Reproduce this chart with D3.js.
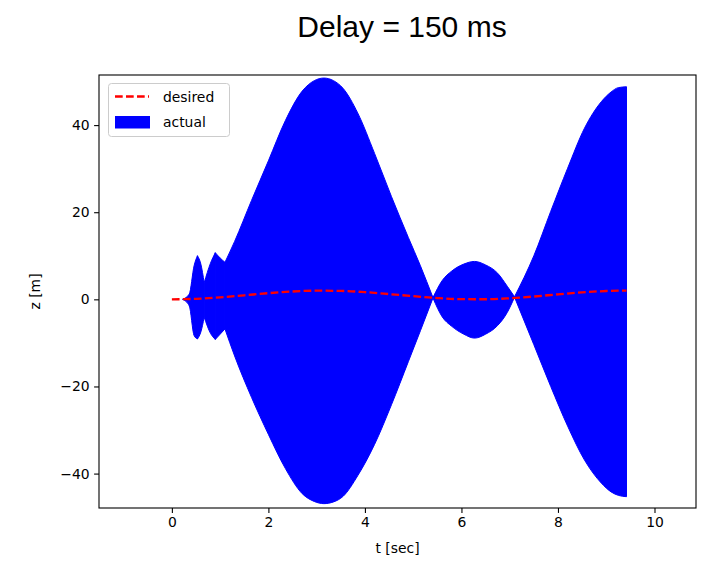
<!DOCTYPE html>
<html>
<head>
<meta charset="utf-8">
<script src="https://cdn.jsdelivr.net/npm/d3@7"></script>
<style>
  html, body { margin: 0; padding: 0; background: #fff; }
  svg { display: block; }
</style>
</head>
<body>
<script>
// ---- data ----
const envT = [0.22, 0.36, 0.46, 0.53, 0.60, 0.67, 0.80, 0.90, 1.00, 1.10, 1.30, 1.65, 2.00, 2.35, 2.70, 2.95, 3.15, 3.35, 3.55, 3.85, 4.20, 4.55, 4.90, 5.15, 5.41, 5.60, 5.80, 6.05, 6.27, 6.50, 6.75, 6.95, 7.10, 7.50, 7.85, 8.20, 8.55, 8.90, 9.10, 9.25, 9.42];
const actualUpper = [0, 1.2, 7.7, 10.0, 8.1, 3.8, 8.3, 10.7, 9.5, 8.5, 13.3, 22.7, 31.8, 41.0, 47.8, 50.2, 50.8, 50.2, 48.4, 42.8, 33.5, 23.6, 14.2, 7.7, 0.4, 4.3, 6.5, 8.1, 8.7, 7.9, 6.0, 3.0, 0.6, 10.0, 20.2, 30.1, 39.3, 45.4, 47.6, 48.6, 48.8];
const actualLower = [0, -1.5, -8.3, -9.1, -7.5, -4.1, -7.8, -9.2, -8.0, -6.8, -13.0, -22.5, -31.0, -38.8, -44.6, -46.4, -46.9, -46.5, -45.2, -40.5, -33.3, -24.2, -14.3, -7.2, 0.3, -4.0, -6.2, -8.0, -8.9, -8.0, -6.0, -3.0, 0.5, -10.4, -20.0, -29.1, -36.9, -42.2, -44.2, -45.0, -45.3];
// times where the envelope has a sharp corner (necks / dips)
const cornerT = [0.53, 0.67, 0.90, 1.10, 5.41, 7.10];
const desiredT = [0, 0.5, 1, 1.5, 2, 2.5, 3, 3.5, 4, 4.5, 5, 5.5, 6, 6.5, 7, 7.5, 8, 8.5, 9, 9.42];
const desiredZ = [0, 0.12, 0.46, 0.93, 1.42, 1.80, 1.99, 1.94, 1.65, 1.21, 0.72, 0.29, 0.04, 0.02, 0.25, 0.65, 1.15, 1.60, 1.91, 2.0];
const xTicks = [0, 2, 4, 6, 8, 10];
const yTicks = [-40, -20, 0, 20, 40];
const seriesNames = ["desired", "actual"];
const titleText = "Delay = 150 ms";
const xLabel = "t [sec]";
const yLabel = "z [m]";

// ---- layout ----
const W = 702, H = 561;
const plot = { left: 99, right: 696, top: 75, bottom: 508 };
const font = "'DejaVu Sans', sans-serif";

const svg = d3.select("body").append("svg").attr("width", W).attr("height", H);

const x = d3.scaleLinear().domain([-1.51, 10.86]).range([plot.left, plot.right]);
const y = d3.scaleLinear().domain([-47.9, 51.5]).range([plot.bottom, plot.top]);

// title
svg.append("text")
  .attr("x", 402).attr("y", 37)
  .attr("text-anchor", "middle")
  .attr("font-family", "'Liberation Sans', Arial, sans-serif")
  .attr("font-size", 30)
  .attr("fill", "#000")
  .text(titleText);

const g = svg.append("g");
g.append("defs").append("clipPath").attr("id", "clip")
  .append("rect").attr("x", plot.left).attr("y", plot.top)
  .attr("width", plot.right - plot.left).attr("height", plot.bottom - plot.top);

const plotArea = g.append("g").attr("clip-path", "url(#clip)");

// actual (filled envelope), drawn in pieces split at sharp corners
const envData = envT.map((t, i) => ({ t, hi: actualUpper[i], lo: actualLower[i] }));
const segments = [];
let cur = [];
envData.forEach(d => {
  cur.push(d);
  if (cornerT.includes(d.t)) { segments.push(cur); cur = [d]; }
});
if (cur.length > 1) segments.push(cur);

const area = d3.area()
  .x(d => x(d.t)).y0(d => y(d.lo)).y1(d => y(d.hi))
  .curve(d3.curveMonotoneX);
plotArea.selectAll("path.env").data(segments).join("path")
  .attr("class", "env")
  .attr("d", area)
  .attr("fill", "#0000ff")
  .attr("stroke", "#0000ff")
  .attr("stroke-width", 1)
  .attr("stroke-linejoin", "round");

// desired (dashed red)
const desData = desiredT.map((t, i) => ({ t, z: desiredZ[i] }));
const line = d3.line().x(d => x(d.t)).y(d => y(d.z)).curve(d3.curveMonotoneX);
plotArea.append("path").datum(desData)
  .attr("d", line)
  .attr("fill", "none")
  .attr("stroke", "#ff0000")
  .attr("stroke-width", 2.3)
  .attr("stroke-dasharray", "7.7,3.3");

// axes
const xAxis = d3.axisBottom(x).tickValues(xTicks).tickSize(4.9).tickPadding(4.5).tickFormat(d3.format("d"));
const yAxis = d3.axisLeft(y).tickValues(yTicks).tickSize(4.9).tickPadding(4.5)
  .tickFormat(d => (d < 0 ? "\u2212" + Math.abs(d) : String(d)));

const gx = g.append("g").attr("transform", `translate(0,${plot.bottom})`).call(xAxis);
const gy = g.append("g").attr("transform", `translate(${plot.left},0)`).call(yAxis);
[gx, gy].forEach(ax => {
  ax.select(".domain").remove();
  ax.selectAll(".tick line").attr("stroke", "#000").attr("stroke-width", 1.1);
  ax.selectAll(".tick text").attr("font-family", font).attr("font-size", 13.9).attr("fill", "#000");
});

// spines
g.append("rect")
  .attr("x", plot.left).attr("y", plot.top)
  .attr("width", plot.right - plot.left).attr("height", plot.bottom - plot.top)
  .attr("fill", "none").attr("stroke", "#000").attr("stroke-width", 1.1);

// axis labels
svg.append("text")
  .attr("x", (plot.left + plot.right) / 2).attr("y", 553)
  .attr("text-anchor", "middle")
  .attr("font-family", font).attr("font-size", 13.9).attr("fill", "#000")
  .text(xLabel);
svg.append("text")
  .attr("transform", `translate(40,${(plot.top + plot.bottom) / 2}) rotate(-90)`)
  .attr("text-anchor", "middle")
  .attr("font-family", font).attr("font-size", 13.9).attr("fill", "#000")
  .text(yLabel);

// legend
const lg = svg.append("g");
lg.append("rect")
  .attr("x", 108.5).attr("y", 83.5).attr("width", 121).attr("height", 53)
  .attr("rx", 3).attr("ry", 3)
  .attr("fill", "#fff").attr("fill-opacity", 0.8)
  .attr("stroke", "#ccc").attr("stroke-width", 1);
lg.append("line")
  .attr("x1", 115).attr("x2", 149).attr("y1", 96.5).attr("y2", 96.5)
  .attr("stroke", "#ff0000").attr("stroke-width", 2.3)
  .attr("stroke-dasharray", "7.7,3.3");
lg.append("rect")
  .attr("x", 115).attr("y", 116).attr("width", 35).attr("height", 12.5)
  .attr("fill", "#0000ff");
lg.selectAll("text.leg").data(seriesNames).join("text")
  .attr("class", "leg")
  .attr("x", 163).attr("y", (d, i) => 101.5 + i * 25)
  .attr("font-family", font).attr("font-size", 13.9).attr("fill", "#000")
  .text(d => d);
</script>
</body>
</html>
